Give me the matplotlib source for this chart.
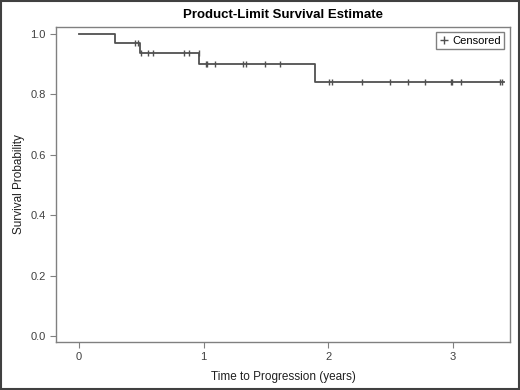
import matplotlib
matplotlib.use("Agg")
import matplotlib.pyplot as plt
from matplotlib.patches import Rectangle

plt.rcParams['font.family'] = ['Liberation Sans', 'DejaVu Sans']

# Kaplan-Meier step data
event_times = [0.0, 0.285, 0.49, 0.96, 1.895]
surv_levels = [1.0, 0.970, 0.937, 0.900, 0.840]
end_time = 3.41

# Censored observations (time, survival at that time)
cens_times = [0.45, 0.47, 0.50, 0.55, 0.59, 0.84, 0.88, 0.96,
              1.02, 1.03, 1.09, 1.32, 1.34, 1.49, 1.61,
              2.01, 2.03, 2.27, 2.50, 2.645, 2.78, 2.985, 2.996, 3.066, 3.38, 3.40]
cens_surv = [0.970, 0.970, 0.937, 0.937, 0.937, 0.937, 0.937, 0.937,
             0.900, 0.900, 0.900, 0.900, 0.900, 0.900, 0.900,
             0.840, 0.840, 0.840, 0.840, 0.840, 0.840, 0.840, 0.840, 0.840, 0.840, 0.840]

x_ticks = [0, 1, 2, 3]
y_ticks = [0.0, 0.2, 0.4, 0.6, 0.8, 1.0]

fig = plt.figure(figsize=(5.2, 3.9), dpi=100)
ax = fig.add_axes([0.1077, 0.123, 0.873, 0.808])

line_col = '#505050'
xs = event_times + [end_time]
ys = surv_levels + [surv_levels[-1]]
ax.step(xs, ys, where='post', color=line_col, lw=1.3)
ax.plot(cens_times, cens_surv, linestyle='none', marker='|', markersize=5,
        markeredgewidth=1.0, color=line_col)

ax.set_xlim(-0.185, 3.46)
ax.set_ylim(-0.02, 1.023)
ax.set_xticks(x_ticks)
ax.set_xticklabels([str(t) for t in x_ticks])
ax.set_yticks(y_ticks)
ax.set_yticklabels([f"{v:.1f}" for v in y_ticks])

for s in ax.spines.values():
    s.set_color('#808080')
    s.set_linewidth(1.0)
ax.tick_params(colors='#404040', labelsize=8, length=4, width=0.8)
ax.tick_params(axis='both', color='#808080')

ax.set_xlabel('Time to Progression (years)', fontsize=8.5, color='#202020', labelpad=6)
ax.set_ylabel('Survival Probability', fontsize=8.5, color='#202020', labelpad=4)
fig.suptitle('Product-Limit Survival Estimate', fontsize=9.5, fontweight='bold',
             y=0.978, x=0.545)

ax.plot([], [], linestyle='none', marker='+', markersize=6, color=line_col,
        label='Censored')
leg = ax.legend(loc='upper right', fontsize=8, frameon=True, fancybox=False,
                handlelength=0.8, handletextpad=0.4, borderpad=0.3,
                borderaxespad=0.5)
leg.get_frame().set_edgecolor('#606060')
leg.get_frame().set_linewidth(1.0)

fig.patches.append(Rectangle((0.002, 0.002), 0.996, 0.996, transform=fig.transFigure,
                             fill=False, edgecolor='#404040', linewidth=1.5))

fig.savefig('out.png', dpi=100)
